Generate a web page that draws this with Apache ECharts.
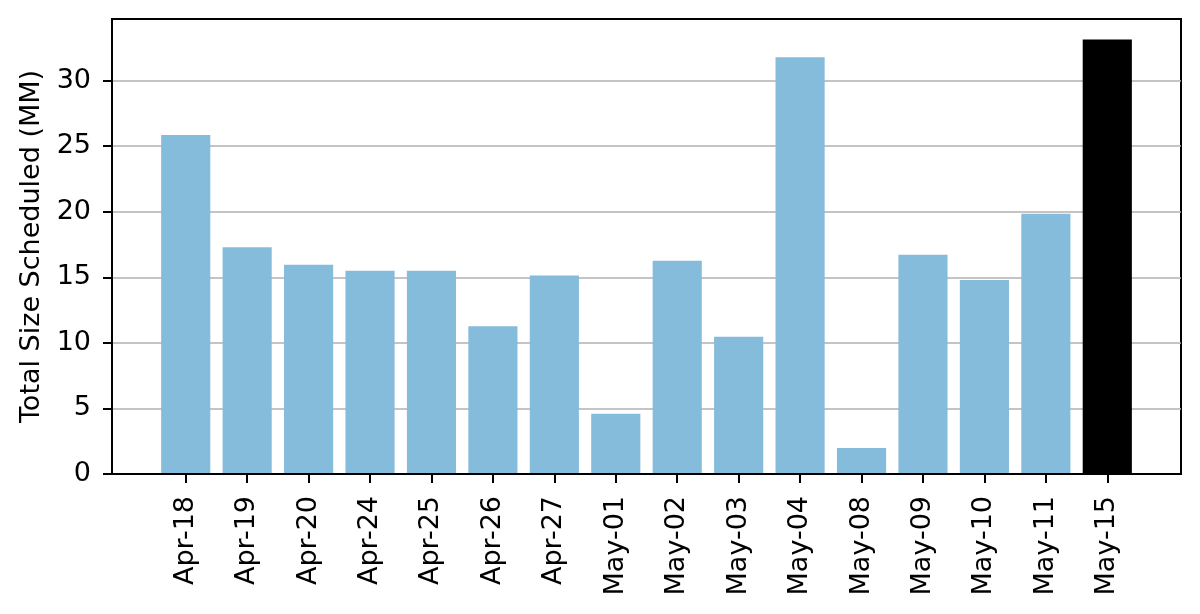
<!DOCTYPE html>
<html>
<head>
<meta charset="utf-8">
<script src="https://cdn.jsdelivr.net/npm/echarts@6/dist/echarts.min.js"></script>
<style>
  html, body { margin: 0; padding: 0; background: #fff; }
  #chart { width: 1200px; height: 614px; }
</style>
</head>
<body>
<div id="chart"></div>
<script>
const dates = ['Apr-18', 'Apr-19', 'Apr-20', 'Apr-24', 'Apr-25', 'Apr-26', 'Apr-27', 'May-01',
  'May-02', 'May-03', 'May-04', 'May-08', 'May-09', 'May-10', 'May-11', 'May-15']
const sizes = [25.86, 17.29, 15.96, 15.51, 15.51, 11.27, 15.13, 4.59,
  16.27, 10.46, 31.78, 1.98, 16.73, 14.80, 19.85, 33.13]
const yTicks = [0, 5, 10, 15, 20, 25, 30]
const highlight = 'May-15'

const font = 'DejaVu Sans'
const yMax = 34.7
const fs = 27

const chart = echarts.init(document.getElementById('chart'))

const option = {
  animation: false,
  textStyle: { fontFamily: font },
  grid: [
    // frame, gridlines and y axis
    { left: 112, right: 19, top: 19, bottom: 140, show: true, borderColor: '#000', borderWidth: 2, backgroundColor: 'transparent' },
    // category band holding the bars
    { left: 155, right: 62, top: 19, bottom: 140 }
  ],
  xAxis: [
    {
      gridIndex: 0, type: 'value', min: 0, max: 1, z: 5,
      axisLine: { show: true, lineStyle: { color: '#000', width: 2 } },
      axisTick: { show: false }, axisLabel: { show: false }, splitLine: { show: false }
    },
    {
      gridIndex: 1,
      type: 'category',
      data: dates,
      axisLine: { show: false },
      axisTick: { show: true, alignWithLabel: true, length: 9, lineStyle: { color: '#000', width: 2 } },
      axisLabel: { rotate: 90, interval: 0, margin: 22, fontSize: fs, color: '#000', fontFamily: font }
    }
  ],
  yAxis: [
    {
      gridIndex: 0,
      type: 'value',
      min: 0,
      max: yMax,
      name: 'Total Size Scheduled (MM)',
      nameLocation: 'middle',
      nameGap: 64,
      nameTextStyle: { fontSize: fs, color: '#000', fontFamily: font },
      axisLine: { show: true, lineStyle: { color: '#000', width: 2 } },
      axisTick: { show: true, length: 9, customValues: yTicks, lineStyle: { color: '#000', width: 2 } },
      axisLabel: { margin: 21, fontSize: fs, color: '#000', fontFamily: font, customValues: yTicks },
      splitLine: { show: true, lineStyle: { color: '#b0b0b0', width: 1.6 } }
    },
    { gridIndex: 1, type: 'value', min: 0, max: yMax, show: false }
  ],
  series: [
    {
      type: 'bar',
      xAxisIndex: 1,
      yAxisIndex: 1,
      barWidth: '80%',
      data: sizes.map((v, i) => ({
        value: v,
        itemStyle: { color: dates[i] === highlight ? '#000000' : '#86bcdb' }
      }))
    }
  ]
}

chart.setOption(option)
</script>
</body>
</html>
